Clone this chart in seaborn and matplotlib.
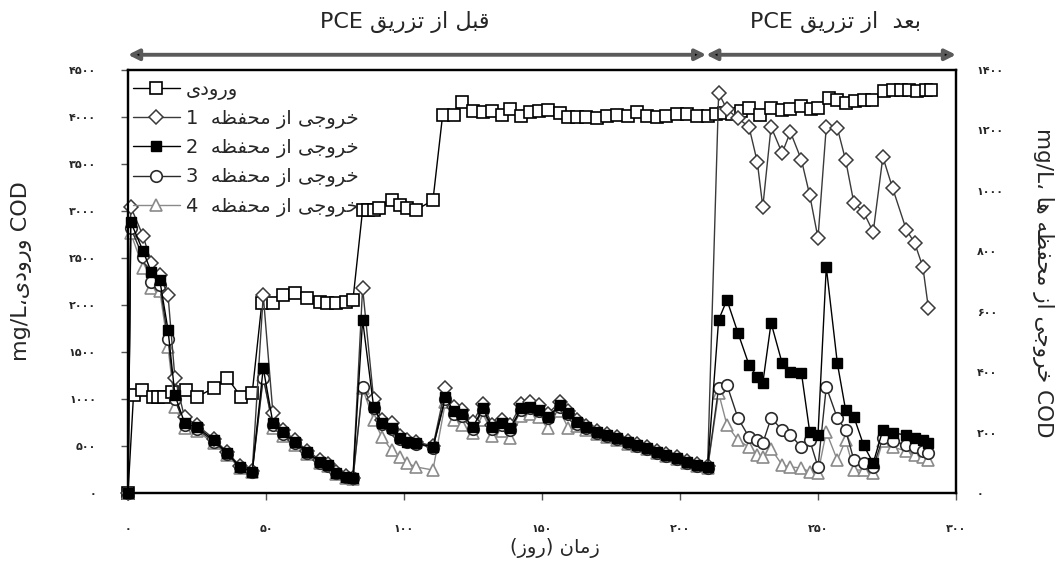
import numpy as np
import matplotlib
matplotlib.use("Agg")
import matplotlib.pyplot as plt
import seaborn as sns

# ---------------- data ----------------
days_in = [0, 2, 5, 9, 11, 13, 16, 21, 25, 31, 36, 41, 45,
           48.5, 52.5, 56, 60.5, 65, 69.5, 72, 75.5, 79, 81.5,
           85, 87, 89, 91, 95.5, 98.5, 101, 104.5, 110.5,
           114, 118, 121, 125, 128.5, 132, 135.5, 138.5, 142.5, 145.5, 149, 152,
           156.5, 159.5, 162.5, 166, 170, 173.5, 177, 181, 184.5, 188, 191.5,
           195, 199, 202.5, 206, 210,
           213, 216, 219, 222, 225, 229, 233, 237, 240, 244, 247.5, 250, 254,
           257, 260, 263.5, 266.5, 269.5, 274, 277, 280, 283, 286, 289, 291]
influent = [0, 1043, 1096, 1021, 1021, 1021, 1075, 1096, 1021, 1117, 1224, 1021, 1064,
            2022, 2022, 2107, 2128, 2075, 2033, 2022, 2022, 2033, 2054,
            3011, 3011, 3011, 3032, 3117, 3064, 3032, 3011, 3117,
            4022, 4022, 4160, 4060, 4050, 4060, 4020, 4080, 4010, 4050, 4060, 4070,
            4040, 4000, 4000, 4000, 3990, 4010, 4020, 4010, 4050, 4010, 4000,
            4010, 4030, 4030, 4010, 4010,
            4030, 4040, 4030, 4060, 4096, 4022, 4096, 4075, 4090, 4117, 4085, 4100, 4203,
            4181, 4150, 4165, 4181, 4181, 4280, 4290, 4285, 4290, 4280, 4290, 4290]

days_eff = [0, 1, 5.5, 8.5, 11.5, 14.5, 17, 20.5, 25, 31, 36, 40.5, 45,
            49, 52.5, 56, 60.5, 65, 69.5, 72.5, 75.5, 79, 81.5,
            85, 89, 92, 95.5, 98.5, 101, 104.5, 110.5,
            115, 118, 121, 125, 128.5, 132, 135.5, 138.5, 142.5, 145.5, 149, 152,
            156.5, 159.5, 162.5, 166, 170, 173.5, 177, 181, 184.5, 188, 191.5,
            195, 199, 202.5, 206, 210,
            214, 217, 221, 225, 228, 230, 233, 237, 240, 244, 247, 250, 253,
            257, 260, 263, 266.5, 270, 273.5, 277, 282, 285, 288, 290]
eff1 = [0, 947, 850, 760, 720, 655, 381, 250, 225, 180, 135, 90, 72,
        655, 265, 210, 175, 140, 110, 95, 70, 55, 50,
        679, 310, 240, 232, 190, 175, 170, 155,
        348, 285, 275, 235, 295, 225, 240, 225, 295, 300, 290, 262,
        300, 272, 240, 222, 205, 195, 185, 172, 162, 152, 139,
        129, 119, 106, 96, 88,
        1324, 1270, 1240, 1212, 1096, 947, 1212, 1125, 1195, 1102, 986, 844, 1212,
        1208, 1102, 960, 930, 864, 1112, 1010, 871, 828, 748, 612]
eff2 = [0, 897, 800, 730, 705, 540, 324, 232, 218, 175, 132, 86, 70,
        414, 232, 202, 169, 136, 103, 93, 66, 53, 50,
        573, 285, 232, 215, 182, 169, 165, 152,
        318, 270, 262, 218, 281, 218, 232, 215, 281, 285, 275, 252,
        291, 265, 235, 218, 202, 192, 182, 169, 159, 149, 136,
        126, 116, 103, 93, 86,
        573, 639, 530, 424, 384, 364, 563, 430, 401, 397, 202, 192, 748,
        430, 275, 252, 159, 99, 209, 199, 192, 182, 175, 165]
eff3 = [0, 877, 780, 700, 690, 510, 310, 225, 212, 170, 130, 85, 70,
        381, 225, 195, 165, 132, 100, 90, 65, 52, 48,
        351, 280, 230, 212, 180, 168, 163, 150,
        312, 262, 255, 212, 275, 212, 226, 210, 276, 280, 270, 248,
        286, 260, 230, 214, 199, 189, 179, 166, 156, 146, 133,
        123, 113, 100, 90, 84,
        348, 358, 248, 185, 175, 165, 248, 209, 192, 152, 175, 86, 351,
        248, 209, 109, 99, 86, 182, 172, 159, 152, 139, 132]
eff4 = [0, 860, 745, 680, 670, 483, 285, 215, 205, 165, 125, 82, 68,
        390, 215, 190, 160, 128, 98, 88, 62, 50, 46,
        346, 242, 185, 142, 119, 99, 86, 76,
        300, 240, 225, 199, 240, 190, 205, 182, 255, 260, 250, 215,
        270, 215, 222, 208, 194, 185, 176, 163, 154, 144, 131,
        121, 111, 98, 88, 82,
        331, 225, 175, 152, 126, 120, 146, 93, 86, 83, 70, 66, 202,
        109, 175, 76, 76, 66, 172, 152, 139, 126, 119, 109]

pce_day = 209.5
x_ticks = [0, 50, 100, 150, 200, 250, 300]
x_ticklabels = ['۰', '۵۰', '۱۰۰', '۱۵۰', '۲۰۰', '۲۵۰', '۳۰۰']
yl_ticks = [0, 500, 1000, 1500, 2000, 2500, 3000, 3500, 4000, 4500]
yl_ticklabels = ['۰', '۵۰۰', '۱۰۰۰', '۱۵۰۰', '۲۰۰۰', '۲۵۰۰', '۳۰۰۰', '۳۵۰۰', '۴۰۰۰', '۴۵۰۰']
yr_ticks = [0, 200, 400, 600, 800, 1000, 1200, 1400]
yr_ticklabels = ['۰', '۲۰۰', '۴۰۰', '۶۰۰', '۸۰۰', '۱۰۰۰', '۱۲۰۰', '۱۴۰۰']

# ---------------- Persian shaping helpers ----------------
FORMS = {
    'ا': ('\uFE8D', '\uFE8E', None, None),
    'ب': ('\uFE8F', '\uFE90', '\uFE91', '\uFE92'),
    'ت': ('\uFE95', '\uFE96', '\uFE97', '\uFE98'),
    'ج': ('\uFE9D', '\uFE9E', '\uFE9F', '\uFEA0'),
    'ح': ('\uFEA1', '\uFEA2', '\uFEA3', '\uFEA4'),
    'خ': ('\uFEA5', '\uFEA6', '\uFEA7', '\uFEA8'),
    'د': ('\uFEA9', '\uFEAA', None, None),
    'ر': ('\uFEAD', '\uFEAE', None, None),
    'ز': ('\uFEAF', '\uFEB0', None, None),
    'ظ': ('\uFEC5', '\uFEC6', '\uFEC7', '\uFEC8'),
    'ع': ('\uFEC9', '\uFECA', '\uFECB', '\uFECC'),
    'ف': ('\uFED1', '\uFED2', '\uFED3', '\uFED4'),
    'ق': ('\uFED5', '\uFED6', '\uFED7', '\uFED8'),
    'ل': ('\uFEDD', '\uFEDE', '\uFEDF', '\uFEE0'),
    'م': ('\uFEE1', '\uFEE2', '\uFEE3', '\uFEE4'),
    'ن': ('\uFEE5', '\uFEE6', '\uFEE7', '\uFEE8'),
    'ه': ('\uFEE9', '\uFEEA', '\uFEEB', '\uFEEC'),
    'و': ('\uFEED', '\uFEEE', None, None),
    'ی': ('\uFBFC', '\uFBFD', '\uFBFE', '\uFBFF'),
}
DUAL = {c for c, f in FORMS.items() if f[2] is not None}


def shape(s):
    out = []
    for i, c in enumerate(s):
        if c not in FORMS:
            out.append(c)
            continue
        prev = s[i - 1] if i > 0 else ''
        nxt = s[i + 1] if i < len(s) - 1 else ''
        jp = prev in DUAL
        jn = c in DUAL and nxt in FORMS
        iso, fin, ini, med = FORMS[c]
        out.append(med if (jp and jn) else fin if jp else ini if jn else iso)
    return ''.join(out)


MIRROR = {'(': ')', ')': '('}


def rtl(s):
    return ''.join(MIRROR.get(c, c) for c in reversed(shape(s)))


# ---------------- figure ----------------
sns.set_style("white")
plt.rcParams['font.family'] = ['DejaVu Sans']

fig = plt.figure(figsize=(10.56, 5.71), dpi=100)
ax = fig.add_axes([128 / 1056, 1 - 493 / 571, 828 / 1056, 423 / 571])
ax2 = ax.twinx()

lab_in = rtl('ورودی')
lab_e = [f'{k}  ' + rtl('خروجی از محفظه') for k in (1, 2, 3, 4)]

sns.lineplot(x=days_in, y=influent, ax=ax, color='black', lw=1.0, marker='s',
             markersize=8.5, markerfacecolor='white', markeredgecolor='black',
             markeredgewidth=1.2, label=lab_in, clip_on=False, legend=False)

sns.lineplot(x=days_eff, y=eff4, ax=ax2, color='#8a8a8a', lw=1.0, marker='^',
             markersize=8.5, markerfacecolor='white', markeredgecolor='#8a8a8a',
             markeredgewidth=1.2, label=lab_e[3], clip_on=False, legend=False)
sns.lineplot(x=days_eff, y=eff3, ax=ax2, color='#2a2a2a', lw=1.0, marker='o',
             markersize=8.3, markerfacecolor='white', markeredgecolor='#2a2a2a',
             markeredgewidth=1.2, label=lab_e[2], clip_on=False, legend=False)
sns.lineplot(x=days_eff, y=eff1, ax=ax2, color='#3a3a3a', lw=1.0, marker='D',
             markersize=6.8, markerfacecolor='white', markeredgecolor='#3a3a3a',
             markeredgewidth=1.1, label=lab_e[0], clip_on=False, legend=False)
sns.lineplot(x=days_eff, y=eff2, ax=ax2, color='black', lw=1.0, marker='s',
             markersize=7.8, markerfacecolor='black', markeredgecolor='black',
             markeredgewidth=1.0, label=lab_e[1], clip_on=False, legend=False)

ax.set_xlim(0, 300)
ax.set_ylim(0, 4500)
ax2.set_ylim(0, 1400)

ax.set_xticks(x_ticks)
ax.set_xticklabels(x_ticklabels, fontsize=8, fontweight='bold')
ax.set_yticks(yl_ticks)
ax.set_yticklabels(yl_ticklabels, fontsize=8, fontweight='bold')
ax2.set_yticks(yr_ticks)
ax2.set_yticklabels(yr_ticklabels, fontsize=8, fontweight='bold')

ax.tick_params(axis='x', direction='out', length=5, width=1, color='#555', pad=17,
               bottom=True)
ax.tick_params(axis='y', direction='out', length=5, width=1, color='#555', pad=18,
               left=True)
ax2.tick_params(axis='y', length=0, pad=15, right=True)
ax.set_xlabel('')
ax.set_ylabel('')
ax2.set_ylabel('')

for a in (ax, ax2):
    for sp in a.spines.values():
        sp.set_visible(True)
        sp.set_color('black')
        sp.set_linewidth(1.6)

# legend
h1, l1 = ax.get_legend_handles_labels()
h2, l2 = ax2.get_legend_handles_labels()
hd = dict(zip(l1 + l2, h1 + h2))
order = [lab_in] + lab_e
ax2.legend([hd[k] for k in order], order, loc='upper left',
           bbox_to_anchor=(5 / 828, 1 - 10 / 423),
           frameon=False, fontsize=14, handlelength=2.4, handletextpad=0.3,
           labelspacing=0.47, borderaxespad=0.0, borderpad=0.0)

# axis labels
fig.text(22 / 1056, 1 - 271 / 571, 'mg/L' + rtl('ورودی،') + ' COD', rotation=90,
         ha='center', va='center', fontsize=16)
fig.text(1043 / 1056, 1 - 283 / 571, 'mg/L، ' + rtl('خروجی از محفظه ها') + ' COD',
         rotation=270, ha='center', va='center', fontsize=15.5)
fig.text(555 / 1056, 1 - 548 / 571, rtl('زمان (روز)'), ha='center', va='center',
         fontsize=14)

# top period arrows and headers
trans = ax.get_xaxis_transform()
arrow_kw = dict(arrowstyle='<|-|>', mutation_scale=16, lw=2.8, color='#5a5a5a',
                shrinkA=0, shrinkB=0)
ax.annotate('', xy=(0, 1.036), xytext=(pce_day, 1.036), xycoords=trans,
            textcoords=trans, arrowprops=dict(arrow_kw, fc='black'),
            annotation_clip=False)
ax.annotate('', xy=(pce_day, 1.036), xytext=(300, 1.036), xycoords=trans,
            textcoords=trans, arrowprops=dict(arrow_kw, fc='black'),
            annotation_clip=False)
fig.text(405 / 1056, 1 - 22 / 571, 'PCE ' + rtl('قبل از تزریق'), ha='center',
         va='center', fontsize=16)
fig.text(835 / 1056, 1 - 22 / 571, 'PCE ' + rtl('بعد  از تزریق'), ha='center',
         va='center', fontsize=16)

fig.savefig('out.png', dpi=100)
